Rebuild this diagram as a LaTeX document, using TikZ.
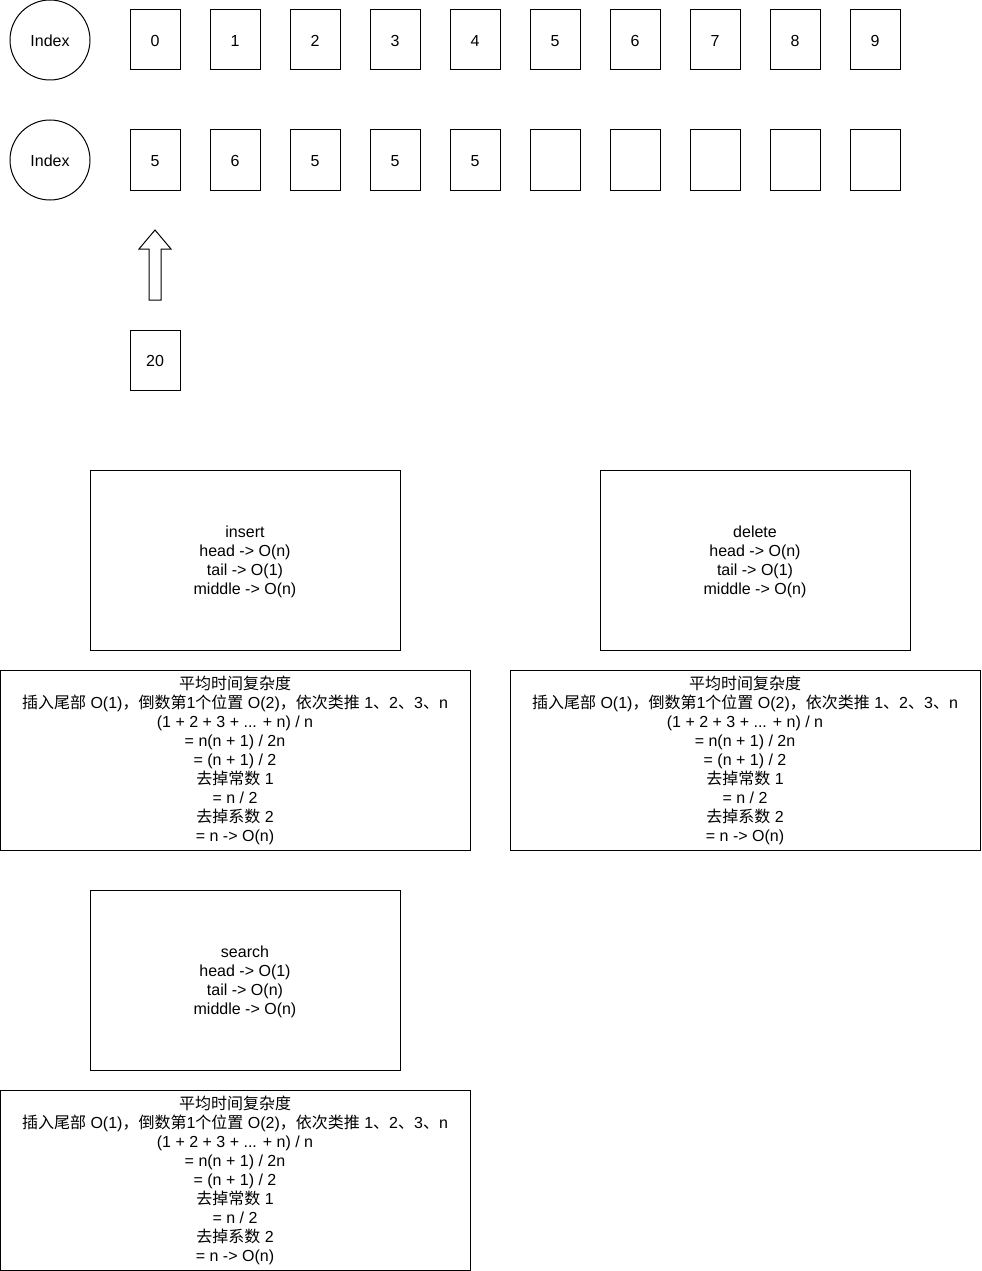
\documentclass[tikz,border=0pt]{standalone}
\usepackage{fontspec}
\setmainfont{Liberation Sans}
\newfontfamily\cjk{Noto Sans CJK SC}
\newcommand{\avgtext}{{\cjk 平均时间复杂度}\\
{\cjk 插入尾部} O(1){\cjk ，倒数第}1{\cjk 个位置} O(2){\cjk ，依次类推} 1{\cjk 、}2{\cjk 、}3{\cjk 、}n\\
(1 + 2 + 3 + ... + n) / n\\
= n(n + 1) / 2n\\
= (n + 1) / 2\\
{\cjk 去掉常数} 1\\
= n / 2\\
{\cjk 去掉系数} 2\\
= n -> O(n)}
\begin{document}
\begin{tikzpicture}[x=1pt,y=-1pt,
  every node/.style={font=\fontsize{16}{19}\selectfont},
  cell/.style={draw,line width=1pt,minimum width=50pt,minimum height=60pt,inner sep=0pt,text height=13pt,text depth=0pt},
  idx/.style={draw,circle,line width=1pt,minimum size=80pt,inner sep=0pt,text height=13pt,text depth=0pt},
  opbox/.style={draw,line width=1pt,minimum width=310pt,minimum height=180pt,inner sep=0pt,align=center},
  optext/.style={align=center,inner sep=0pt},
  avgbox/.style={draw,line width=1pt,minimum width=470pt,minimum height=180pt,inner sep=0pt,align=center}]
\useasboundingbox (0,0) rectangle (982,1271);
\node[idx] (i1) at (50,40) {Index};
\node[idx] (i2) at (50,160) {Index};
\foreach \k in {0,...,9}{
  \node[cell] (a\k) at (155+80*\k,40) {\k};
}
\node[cell] (b0) at (155,160) {5};
\node[cell] (b1) at (235,160) {6};
\node[cell] (b2) at (315,160) {5};
\node[cell] (b3) at (395,160) {5};
\node[cell] (b4) at (475,160) {5};
\foreach \k in {5,...,9}{
  \node[cell] (b\k) at (155+80*\k,160) {};
}
\node[cell] (c20) at (155,360) {20};
\draw[line width=1pt,line join=miter] (149,300) -- (161,300) -- (161,249) -- (171,249) -- (155,230) -- (139,249) -- (149,249) -- cycle;
\node[opbox] (ins) at (245,560) {};
\node[optext] at (245,562) {insert\\head -> O(n)\\tail -> O(1)\\middle -> O(n)};
\node[opbox] (del) at (755,560) {};
\node[optext] at (755,562) {delete\\head -> O(n)\\tail -> O(1)\\middle -> O(n)};
\node[opbox] (sea) at (245,980) {};
\node[optext] at (245,982) {search\\head -> O(1)\\tail -> O(n)\\middle -> O(n)};
\node[avgbox] (av1) at (235,760) {\avgtext};
\node[avgbox] (av2) at (745,760) {\avgtext};
\node[avgbox] (av3) at (235,1180) {\avgtext};
\end{tikzpicture}
\end{document}
